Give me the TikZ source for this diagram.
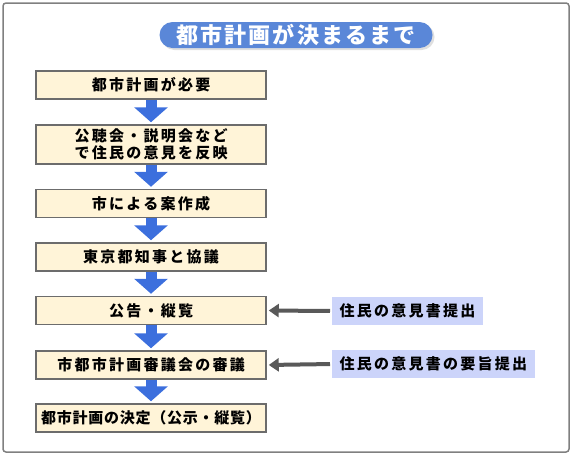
\documentclass[tikz,border=0pt]{standalone}
\usepackage{fontspec}
\newfontfamily\jp{Noto Sans CJK JP}[LetterSpace=15]
\newfontfamily\jpn{Noto Sans CJK JP}[LetterSpace=5]
\newfontfamily\jpt{Noto Sans CJK JP}[LetterSpace=10]
\usetikzlibrary{arrows.meta,shadows}
\definecolor{cream}{HTML}{FFF4D8}
\definecolor{flowblue}{HTML}{3C6FDD}
\definecolor{notelav}{HTML}{CCD4FA}
\definecolor{pillblue}{HTML}{5A87D8}

\begin{document}
\begin{tikzpicture}[x=1pt,y=-1pt,
  stepbox/.style={draw=gray!85!black,line width=1.5pt,fill=cream,minimum width=230pt,minimum height=28pt,inner sep=0pt,align=center,font=\jp\fontsize{15}{17}\selectfont\bfseries},
  note/.style={fill=notelav,minimum height=28pt,inner xsep=7.5pt,font=\jp\fontsize{15}{17}\selectfont\bfseries},
  pill/.style={fill=pillblue,rounded corners=13pt,minimum width=273pt,minimum height=26pt,inner sep=0pt,text=white,font=\jpt\fontsize{22}{24}\selectfont\bfseries,drop shadow={shadow xshift=2pt,shadow yshift=-2pt,fill=gray!50}},
  flowarrow/.style={draw=flowblue,line width=11pt,-{Triangle[width=33pt,length=15pt]},shorten >=2pt},
  notearrow/.style={draw=gray!70!black,line width=4pt,-{Triangle[width=13pt,length=10pt]},shorten >=2pt,shorten <=2pt}]
\useasboundingbox (0,0) rectangle (572,456);
\draw[gray,line width=1.5pt,rounded corners=3pt] (3,3) rectangle (569,452);
\node[pill] (title) at (296,35) {都市計画が決まるまで};
\node[stepbox] (b1) at (151,85) {都市計画が必要};
\node[stepbox,minimum height=39pt] (b2) at (151,144.5) {公聴会・説明会など\\で住民の意見を反映};
\node[stepbox] (b3) at (151,203.5) {市による案作成};
\node[stepbox] (b4) at (151,257) {東京都知事と協議};
\node[stepbox] (b5) at (151,310.5) {公告・縦覧};
\node[stepbox] (b6) at (151,365) {市都市計画審議会の審議};
\node[stepbox,font=\jpn\fontsize{15}{17}\selectfont\bfseries] (b7) at (151,418) {都市計画の決定（公示・縦覧）};
\node[note,anchor=west] (n1) at (332,311) {住民の意見書提出};
\node[note,anchor=west] (n2) at (332,364) {住民の意見書の要旨提出};
\foreach \a/\b in {b1/b2,b2/b3,b3/b4,b4/b5,b5/b6,b6/b7}
  \draw[flowarrow] (\a.south) -- (\b.north);
%\draw[flowarrow,blue!60!black] (b1.south) -- (b2.north);
\draw[notearrow] (n1.west) -- (b5.east);
\draw[notearrow] (n2.west) -- (b6.east);
\end{tikzpicture}
\end{document}
